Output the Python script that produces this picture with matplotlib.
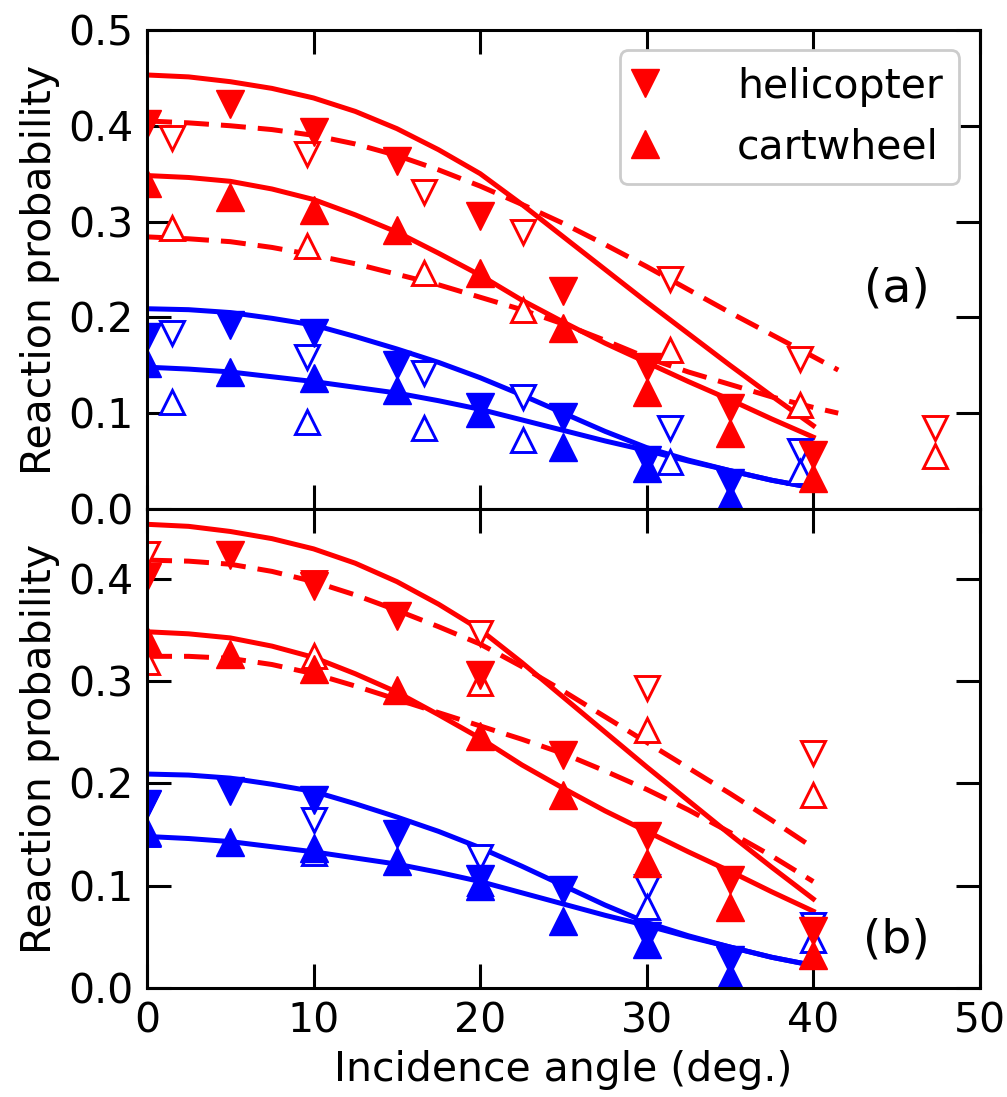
import matplotlib
matplotlib.use("Agg")
import matplotlib.pyplot as plt

# Data
#---------------------------
# calculations (filled markers) - same in both panels
ang_calc = [0, 5, 10, 15, 20, 25, 30, 35, 40]
heli_red = [0.402, 0.423, 0.393, 0.363, 0.306, 0.228, 0.148, 0.105, 0.056]
cart_red = [0.340, 0.326, 0.312, 0.291, 0.246, 0.189, 0.122, 0.079, 0.032]
ang_calc_blue = [0, 5, 10, 15, 20, 25, 30, 35]
heli_blue = [0.180, 0.192, 0.184, 0.150, 0.106, 0.096, 0.051, 0.027]
cart_blue = [0.152, 0.143, 0.137, 0.124, 0.100, 0.065, 0.043, 0.011]

# fits to the calculations (solid lines)
ang_fit = [0, 2.5, 5, 7.5, 10, 12.5, 15, 17.5, 20, 22.5, 25, 27.5, 30, 32.5, 35, 37.5, 40]
fit_heli_red = [0.453, 0.451, 0.446, 0.439, 0.429, 0.415, 0.397, 0.375, 0.350,
                0.318, 0.284, 0.250, 0.216, 0.183, 0.150, 0.118, 0.087]
fit_cart_red = [0.348, 0.346, 0.342, 0.334, 0.323, 0.307, 0.289, 0.267, 0.244,
                0.218, 0.195, 0.173, 0.153, 0.133, 0.114, 0.094, 0.075]
fit_heli_blue = [0.209, 0.208, 0.205, 0.199, 0.192, 0.180, 0.167, 0.153, 0.137,
                 0.119, 0.100, 0.081, 0.064, 0.051, 0.040, 0.030, 0.022]
fit_cart_blue = [0.148, 0.146, 0.143, 0.138, 0.133, 0.127, 0.121, 0.113, 0.104,
                 0.093, 0.082, 0.071, 0.061, 0.050, 0.040, 0.030, 0.022]

# panel (a): open markers
ang_open_a_red = [1.5, 9.6, 16.6, 22.6, 31.4, 39.2, 47.3]
heli_red_open_a = [0.387, 0.371, 0.331, 0.289, 0.240, 0.157, 0.085]
cart_red_open_a = [0.293, 0.274, 0.246, 0.208, 0.166, 0.109, 0.055]
ang_open_a_blue = [1.5, 9.6, 16.6, 22.6, 31.4, 39.2]
heli_blue_open_a = [0.184, 0.159, 0.142, 0.117, 0.085, 0.060]
cart_blue_open_a = [0.112, 0.091, 0.085, 0.072, 0.049, 0.039]

# panel (a): dashed fits to the open markers
ang_dash_a = [0, 2.5, 5, 7.5, 10, 12.5, 15, 17.5, 20, 22.5, 25, 27.5, 30, 32.5,
              35, 37.5, 40, 41.5]
dash_heli_a = [0.405, 0.403, 0.400, 0.396, 0.390, 0.381, 0.369, 0.354, 0.337,
               0.318, 0.298, 0.276, 0.253, 0.229, 0.205, 0.182, 0.159, 0.145]
dash_cart_a = [0.284, 0.282, 0.279, 0.273, 0.265, 0.256, 0.245, 0.234, 0.221,
               0.208, 0.193, 0.176, 0.158, 0.143, 0.130, 0.117, 0.106, 0.100]

# panel (b): open markers
ang_open_b = [0, 10, 20, 30, 40]
heli_red_open_b = [0.424, 0.396, 0.347, 0.293, 0.230]
cart_red_open_b = [0.318, 0.324, 0.298, 0.252, 0.189]
heli_blue_open_b = [0.180, 0.164, 0.128, 0.099, 0.062]
cart_blue_open_b = [0.150, 0.132, 0.103, 0.079, 0.047]

# panel (b): dashed fits
ang_dash_b = [0, 2.5, 5, 7.5, 10, 12.5, 15, 17.5, 20, 22.5, 25, 27.5, 30, 32.5,
              35, 37.5, 40]
dash_heli_b = [0.418, 0.417, 0.414, 0.407, 0.397, 0.384, 0.369, 0.353, 0.336,
               0.314, 0.290, 0.265, 0.240, 0.215, 0.190, 0.164, 0.137]
dash_cart_b = [0.324, 0.324, 0.322, 0.316, 0.307, 0.295, 0.282, 0.269, 0.256,
               0.243, 0.229, 0.212, 0.194, 0.174, 0.152, 0.129, 0.104]

RED = "#ff0000"
BLUE = "#0000ff"
FS = 29.5
LW = 3.6
DASH = (5.0, 2.4)

plt.rcParams["font.family"] = "DejaVu Sans"

fig, (ax_a, ax_b) = plt.subplots(2, 1, sharex=True, figsize=(10.07, 10.97), dpi=100)
fig.subplots_adjust(left=0.146, right=0.973, top=0.9727, bottom=0.0994, hspace=0)


def filled(ax, x, y, c, m, label=None):
    return ax.plot(x, y, ls="none", marker=m, ms=19.5, color=c, mec=c, label=label)[0]


def opened(ax, x, y, c, m):
    ax.plot(x, y, ls="none", marker=m, ms=17.5, mfc="white", mec=c, mew=2.1)


def panel(ax, dash_x, dash_h, dash_c, ox_red, hr, cr, ox_blue, hb, cb):
    # fits
    ax.plot(ang_fit, fit_heli_red, "-", color=RED, lw=LW)
    ax.plot(ang_fit, fit_cart_red, "-", color=RED, lw=LW)
    ax.plot(ang_fit, fit_heli_blue, "-", color=BLUE, lw=LW)
    ax.plot(ang_fit, fit_cart_blue, "-", color=BLUE, lw=LW)
    ax.plot(dash_x, dash_h, "--", color=RED, lw=LW, dashes=DASH)
    ax.plot(dash_x, dash_c, "--", color=RED, lw=LW, dashes=DASH)
    # open markers
    opened(ax, ox_red, hr, RED, "v")
    opened(ax, ox_red, cr, RED, "^")
    opened(ax, ox_blue, hb, BLUE, "v")
    opened(ax, ox_blue, cb, BLUE, "^")
    # filled markers
    h1 = filled(ax, ang_calc, heli_red, RED, "v", "helicopter")
    h2 = filled(ax, ang_calc, cart_red, RED, "^", "cartwheel")
    filled(ax, ang_calc_blue, heli_blue, BLUE, "v")
    filled(ax, ang_calc_blue, cart_blue, BLUE, "^")

    ax.set_xlim(0, 50)
    ax.set_xticks([0, 10, 20, 30, 40, 50])
    ax.set_ylabel("Reaction probability", fontsize=FS, labelpad=6)
    ax.tick_params(direction="in", top=True, right=True, length=17, width=2.2,
                   labelsize=FS, pad=10)
    for s in ax.spines.values():
        s.set_linewidth(2.2)
    ax.yaxis.set_major_formatter(matplotlib.ticker.FormatStrFormatter("%.1f"))
    return h1, h2


h1, h2 = panel(ax_a, ang_dash_a, dash_heli_a, dash_cart_a,
               ang_open_a_red, heli_red_open_a, cart_red_open_a,
               ang_open_a_blue, heli_blue_open_a, cart_blue_open_a)
panel(ax_b, ang_dash_b, dash_heli_b, dash_cart_b,
      ang_open_b, heli_red_open_b, cart_red_open_b,
      ang_open_b, heli_blue_open_b, cart_blue_open_b)

ax_a.set_ylim(0, 0.5)
ax_a.set_yticks([0.0, 0.1, 0.2, 0.3, 0.4, 0.5])
ax_b.set_ylim(0, 0.468)
ax_b.set_yticks([0.0, 0.1, 0.2, 0.3, 0.4])
ax_b.set_xlabel("Incidence angle (deg.)", fontsize=FS, labelpad=6)

ax_a.text(0.90, 0.46, "(a)", transform=ax_a.transAxes, fontsize=34,
          ha="center", va="center")
ax_b.text(0.90, 0.10, "(b)", transform=ax_b.transAxes, fontsize=34,
          ha="center", va="center")

leg = ax_a.legend(handles=[h1, h2], loc="upper right", fontsize=FS,
                  handlelength=0.4, handletextpad=2.05, borderaxespad=0.5,
                  borderpad=0.4, fancybox=True, framealpha=1.0)
leg.get_frame().set_edgecolor("#cccccc")
leg.get_frame().set_linewidth(2.0)

fig.align_ylabels([ax_a, ax_b])
fig.savefig("out.png", dpi=100)
